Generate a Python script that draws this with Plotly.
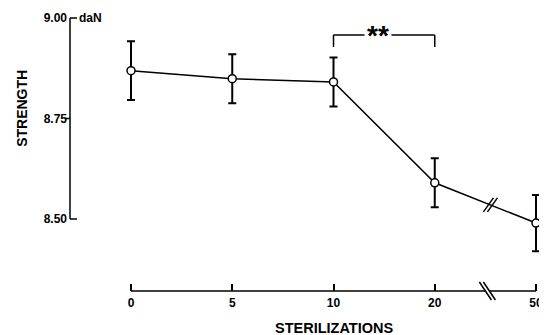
import plotly.graph_objects as go

categories = ["0", "5", "10", "20", "50"]
strength = [8.869, 8.849, 8.841, 8.590, 8.490]
err = [0.073, 0.061, 0.061, 0.061, 0.070]
y_ticks = [8.50, 8.75, 9.00]
y_tick_labels = ["8.50", "8.75", "9.00"]

xpos = list(range(len(categories)))
FONT = "Liberation Sans, Arial, Helvetica, sans-serif"

fig = go.Figure()
fig.add_trace(go.Scatter(
    x=xpos, y=strength, mode="lines+markers",
    line=dict(color="black", width=1.5),
    marker=dict(symbol="circle", size=8, color="white", line=dict(color="black", width=1.5)),
    error_y=dict(type="data", array=err, visible=True, color="black", thickness=2, width=4),
    showlegend=False, cliponaxis=False,
))

shapes = []
# y axis line (8.50 .. 9.00)
shapes.append(dict(type="line", xref="paper", yref="y", x0=0, x1=0, y0=y_ticks[0], y1=y_ticks[-1],
                   line=dict(color="black", width=1.5)))
# y ticks: end ticks point right, middle tick points left
for i, yt in enumerate(y_ticks):
    end = i in (0, len(y_ticks) - 1)
    shapes.append(dict(type="line", xref="paper", yref="y", xsizemode="pixel", xanchor=0,
                       x0=0, x1=(7 if end else -5), y0=yt, y1=yt,
                       line=dict(color="black", width=1.5)))
# x axis line
shapes.append(dict(type="line", xref="x", yref="paper", x0=xpos[0], x1=xpos[-1], y0=0, y1=0,
                   line=dict(color="black", width=1.5)))
# break marks on data line
xb = (xpos[3] + xpos[4]) / 2 + 0.05
yb = strength[3] + (strength[4] - strength[3]) * 0.55
for dx in (-2, 2):
    shapes.append(dict(type="line", xref="x", yref="y", xsizemode="pixel", ysizemode="pixel",
                       xanchor=xb, yanchor=yb, x0=dx - 5, x1=dx + 5, y0=-7, y1=7,
                       line=dict(color="black", width=1.5)))
# break marks on x axis
xb2 = (xpos[3] + xpos[4]) / 2 + 0.02
shapes.append(dict(type="line", xref="x", yref="paper", xsizemode="pixel", ysizemode="pixel",
                   xanchor=xb2, yanchor=0, x0=-2, x1=2, y0=0, y1=0,
                   line=dict(color="white", width=3)))
for dx in (-2, 2):
    shapes.append(dict(type="line", xref="x", yref="paper", xsizemode="pixel", ysizemode="pixel",
                       xanchor=xb2, yanchor=0, x0=dx - 6, x1=dx + 6, y0=9, y1=-9,
                       line=dict(color="black", width=1.5)))
# significance bracket between 10 and 20
by = 8.958
shapes.append(dict(type="line", xref="x", yref="y", x0=xpos[2], x1=xpos[3], y0=by, y1=by,
                   line=dict(color="black", width=1.5)))
shapes.append(dict(type="line", xref="x", yref="y", x0=xpos[2], x1=xpos[2], y0=by, y1=by - 0.03,
                   line=dict(color="black", width=1.5)))
shapes.append(dict(type="line", xref="x", yref="y", x0=xpos[3], x1=xpos[3], y0=by, y1=by - 0.03,
                   line=dict(color="black", width=1.5)))

annotations = [
    dict(x=(xpos[2] + xpos[3]) / 2 - 0.06, y=by, xref="x", yref="y", text="<b>**</b>", showarrow=False,
         xanchor="center", yanchor="middle",
         bgcolor="white", font=dict(family=FONT, size=28, color="black"), borderpad=2, yshift=-1),
    dict(x=0, y=y_ticks[-1], xref="paper", yref="y", text="<b>daN</b>", showarrow=False,
         xanchor="left", yanchor="middle", xshift=7, font=dict(family=FONT, size=12, color="black")),
    dict(x=0, y=8.774, xref="paper", yref="y", xshift=-48, text="<b>STRENGTH</b>", showarrow=False,
         xanchor="center", yanchor="middle",
         textangle=-90, font=dict(family=FONT, size=14, color="black")),
    dict(x=xpos[2], y=0, xref="x", yref="paper", yshift=-37, text="<b>STERILIZATIONS</b>", showarrow=False,
         xanchor="center", yanchor="middle",
         font=dict(family=FONT, size=14.5, color="black")),
]

# The page body adds an 8px offset; compensate so the chart lands at the same pixels.
fig.update_layout(
    width=539, height=327,
    margin=dict(l=62, r=6, t=2, b=44),
    paper_bgcolor="white", plot_bgcolor="white",
    shapes=shapes, annotations=annotations,
    xaxis=dict(range=[-0.6025, 4.0494], tickvals=xpos, ticktext=[f"<b>{c}</b>" for c in categories],
               ticks="inside", ticklen=7, tickwidth=1.5, tickcolor="black", ticklabelstandoff=3,
               showline=False, showgrid=False, zeroline=False,
               tickfont=dict(family=FONT, size=12, color="black")),
    yaxis=dict(range=[8.3209, 9.0199], tickvals=y_ticks, ticktext=[f"<b>{t}</b>" for t in y_tick_labels],
               ticks="", ticklabelstandoff=2,
               showline=False, showgrid=False, zeroline=False,
               tickfont=dict(family=FONT, size=12, color="black")),
)

fig.write_html("out.html")
